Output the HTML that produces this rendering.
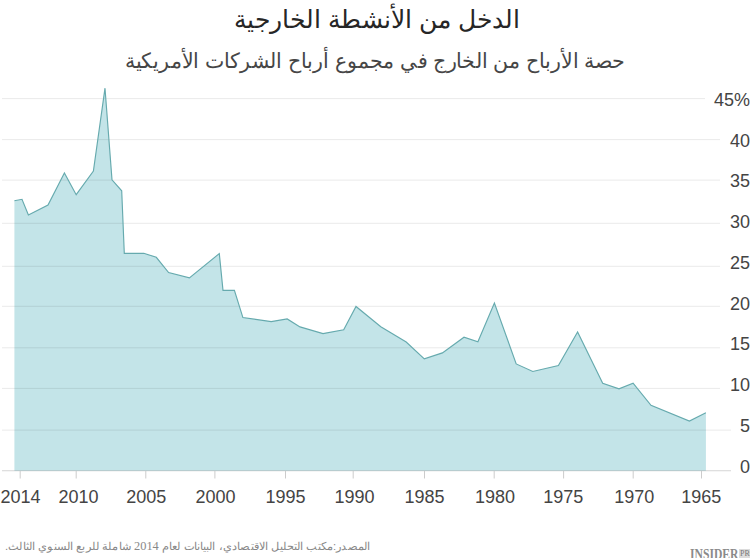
<!DOCTYPE html>
<html><head><meta charset="utf-8">
<style>
html,body{margin:0;padding:0;background:#fff;}
body{width:750px;height:558px;overflow:hidden;position:relative;font-family:"Liberation Sans",sans-serif;}
.t{position:absolute;left:0;width:750px;text-align:center;direction:rtl;white-space:nowrap;}
#title{top:5px;left:2px;font-size:24.5px;color:#262626;}
#sub{top:49px;left:0px;font-size:21px;transform:scaleX(0.978);color:#464646;}
#src{position:absolute;left:5px;top:538.5px;font-size:11px;transform:scaleX(1.03);transform-origin:0 0;color:#888;direction:rtl;white-space:nowrap;}
#logo{position:absolute;left:690px;top:547px;font-family:"Liberation Serif",serif;font-weight:bold;font-size:15px;line-height:15px;color:#8a8a8a;transform:scaleX(0.775);transform-origin:0 0;}
#pro{position:absolute;left:739px;top:549px;width:11px;height:9px;background:#dcdcdc;font-family:"Liberation Serif",serif;font-size:8px;line-height:9px;color:#777;overflow:hidden;padding-left:1px;box-sizing:border-box;}
svg{position:absolute;left:0;top:0;}
</style></head><body>
<div class="t" id="title">الدخل من الأنشطة الخارجية</div>
<div class="t" id="sub">حصة الأرباح من الخارج في مجموع أرباح الشركات الأمريكية</div>
<svg width="750" height="558" viewBox="0 0 750 558">
<polygon points="14.4,470.8 14.4,200.7 22,199.3 28.4,214.9 48,205 64.4,172.9 76.2,194.7 93.4,171 105,88.2 112,179.8 121.7,190.8 124.3,253.3 143.8,253.3 156.3,257.3 168.6,272.5 189.4,277.9 219.3,253.6 223,290.4 234.4,290.4 242.9,317.6 271.2,321.6 287.2,318.9 300,326.9 323,333.6 343.7,329.7 356,306.5 380.8,326.8 406.2,342 424.3,358.8 442.4,352.9 464,337.2 477.9,341.7 494.4,303 516.2,363.9 532.8,371.5 558.4,365.6 577.6,332 602.7,383.2 619,388.8 633.1,383.2 651,405.3 689.4,421.1 705.9,412.8 705.9,470.8" fill="#c3e4e8" stroke="none"/>
<g stroke="#000" stroke-opacity="0.085" stroke-width="1">
<line x1="2" y1="98.6" x2="705" y2="98.6"/>
<line x1="2" y1="139.6" x2="720" y2="139.6"/>
<line x1="2" y1="180.1" x2="720" y2="180.1"/>
<line x1="2" y1="223.3" x2="720" y2="223.3"/>
<line x1="2" y1="266.3" x2="720" y2="266.3"/>
<line x1="2" y1="306.3" x2="720" y2="306.3"/>
<line x1="2" y1="347.8" x2="720" y2="347.8"/>
<line x1="2" y1="388.4" x2="720" y2="388.4"/>
<line x1="2" y1="430.1" x2="731" y2="430.1"/>
</g>
<polyline points="14.4,200.7 22,199.3 28.4,214.9 48,205 64.4,172.9 76.2,194.7 93.4,171 105,88.2 112,179.8 121.7,190.8 124.3,253.3 143.8,253.3 156.3,257.3 168.6,272.5 189.4,277.9 219.3,253.6 223,290.4 234.4,290.4 242.9,317.6 271.2,321.6 287.2,318.9 300,326.9 323,333.6 343.7,329.7 356,306.5 380.8,326.8 406.2,342 424.3,358.8 442.4,352.9 464,337.2 477.9,341.7 494.4,303 516.2,363.9 532.8,371.5 558.4,365.6 577.6,332 602.7,383.2 619,388.8 633.1,383.2 651,405.3 689.4,421.1 705.9,412.8" fill="none" stroke="#66aaae" stroke-width="1.15" stroke-linejoin="miter"/>
<line x1="2" y1="470.8" x2="731" y2="470.8" stroke="#000" stroke-opacity="0.17" stroke-width="1.1"/>
<g stroke="#cccccc" stroke-width="1">
<line x1="20.2" y1="471" x2="20.2" y2="478.5"/>
<line x1="76.2" y1="471" x2="76.2" y2="478.5"/>
<line x1="145.8" y1="471" x2="145.8" y2="478.5"/>
<line x1="214.9" y1="471" x2="214.9" y2="478.5"/>
<line x1="285.5" y1="471" x2="285.5" y2="478.5"/>
<line x1="353.2" y1="471" x2="353.2" y2="478.5"/>
<line x1="424.5" y1="471" x2="424.5" y2="478.5"/>
<line x1="494.2" y1="471" x2="494.2" y2="478.5"/>
<line x1="563.6" y1="471" x2="563.6" y2="478.5"/>
<line x1="633.2" y1="471" x2="633.2" y2="478.5"/>
<line x1="701.5" y1="471" x2="701.5" y2="478.5"/>
</g>
<g font-family="Liberation Sans, sans-serif" font-size="18" fill="#444" text-anchor="middle">
<text x="20.6" y="503">2014</text>
<text x="78.5" y="503">2010</text>
<text x="146.3" y="503">2005</text>
<text x="215.5" y="503">2000</text>
<text x="285.4" y="503">1995</text>
<text x="354.4" y="503">1990</text>
<text x="424.5" y="503">1985</text>
<text x="495.1" y="503">1980</text>
<text x="563.3" y="503">1975</text>
<text x="634.2" y="503">1970</text>
<text x="701.3" y="503">1965</text>
</g>
<g font-family="Liberation Sans, sans-serif" font-size="18" fill="#444" text-anchor="end">
<text x="750" y="105.7">45%</text>
<text x="750" y="146.5">40</text>
<text x="750" y="187.3">35</text>
<text x="750" y="228.1">30</text>
<text x="750" y="268.9">25</text>
<text x="750" y="309.6">20</text>
<text x="750" y="350.4">15</text>
<text x="750" y="391.2">10</text>
<text x="750" y="432.0">5</text>
<text x="750" y="472.8">0</text>
</g>
</svg>
<div id="src">المصدر:مكتب التحليل الاقتصادي، البيانات لعام <span style="font-family:'Liberation Serif',serif;font-size:12px">2014</span> شاملة للربع السنوي الثالث.</div>
<div id="logo">INSIDER</div><div id="pro">PRO</div>
</body></html>
